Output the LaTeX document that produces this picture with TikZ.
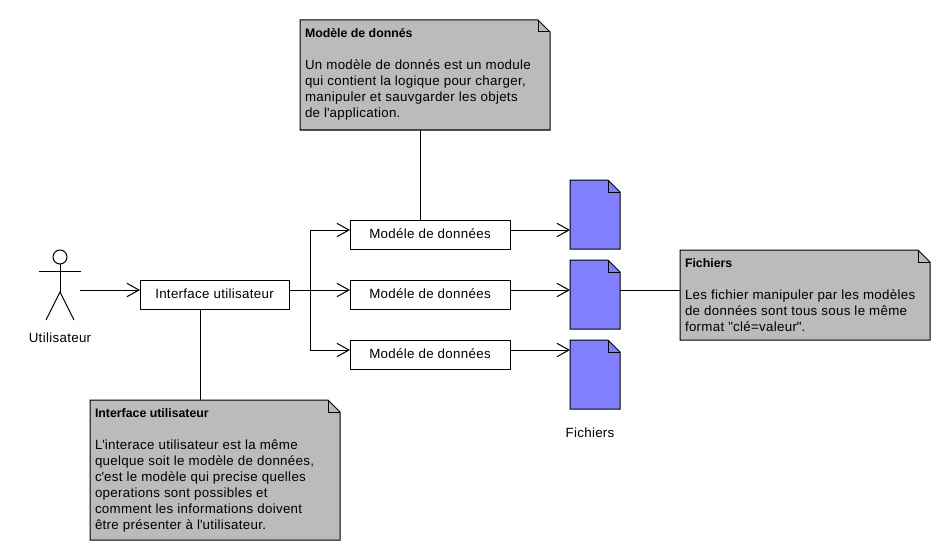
\documentclass[tikz,border=0pt]{standalone}
\usepackage{fontspec}
\setmainfont[LetterSpace=2.3]{Liberation Sans}
\newfontfamily\titlefont[Scale=1]{Liberation Sans}
\usetikzlibrary{calc,arrows.meta}
\definecolor{notegray}{HTML}{BBBBBB}
\definecolor{fileblue}{HTML}{8080FF}
\newcommand{\px}{0.75pt}
\newcommand{\notetitle}[1]{{\fontsize{9.25}{12}\titlefont\bfseries #1}}
% outline with the folded corner, round an empty node
\newcommand{\foldbox}[2]{%
\draw [fill = #2] (#1.north west) -- ($(#1.north east)+(-12,0)$) -- ($(#1.north east)+(0,12)$) -- (#1.south east) -- (#1.south west) -- cycle;
\draw ($(#1.north east)+(-12,0)$) -- ($(#1.north east)+(-12,12)$) -- ($(#1.north east)+(0,12)$);}
\tikzset{
  every node/.style = {font = \fontsize{10}{12}\selectfont, inner sep = 0, outer sep = 0},
  module/.style = {draw, fill = white, minimum height = 29*\px, text height = 8pt, text depth = 2.5pt},
  notebody/.style = {minimum width = 250*\px, anchor = north west},
  notetext/.style = {anchor = north west, align = left},
  filebody/.style = {minimum width = 50*\px, minimum height = 69*\px, anchor = north west},
  conn/.style = {-{Straight Barb[length = 9pt, width = 10pt]}}
}
\begin{document}
\begin{tikzpicture}[x = \px, y = -\px, line width = \px]
\useasboundingbox (0,0) rectangle (950,560);
% actor
\node [circle, draw, minimum size = 14*\px] (head) at (60,257) {};
\coordinate (hip) at (60,292);
\coordinate (actorout) at (80,290);
\draw (head.south) -- (hip);
\draw (39,271) -- (81,271);
\draw (46,320) -- (hip) -- (74,320);
\node (actorlabel) at (60,338) {Utilisateur};
% modules
\node [module, minimum width = 149*\px] (interface) at (214.5,294.5) {Interface utilisateur};
\node [module, minimum width = 160*\px] (dataA) at (430,234.5) {Modéle de données};
\node [module, minimum width = 160*\px] (dataB) at (430,294.5) {Modéle de données};
\node [module, minimum width = 160*\px] (dataC) at (430,354.5) {Modéle de données};
% files
\node [filebody] (fileA) at (570,180) {}; \foldbox{fileA}{fileblue}
\node [filebody] (fileB) at (570,260) {}; \foldbox{fileB}{fileblue}
\node [filebody] (fileC) at (570,340) {}; \foldbox{fileC}{fileblue}
\node (filelabel) at (590,433) {Fichiers};
% notes
\node [notebody, minimum height = 110*\px] (noteData) at (300,20) {}; \foldbox{noteData}{notegray}
\node [notetext] (noteDataText) at (305,28.5) {\notetitle{Modèle de donnés}\\[12pt]Un modèle de donnés est un module\\qui contient la logique pour charger,\\manipuler et sauvgarder les objets\\de l\textquotesingle application.};
\node [notebody, minimum height = 90*\px] (noteFile) at (680,250) {}; \foldbox{noteFile}{notegray}
\node [notetext] (noteFileText) at (685,258.5) {\notetitle{Fichiers}\\[12pt]Les fichier manipuler par les modèles\\de données sont tous sous le même\\format \textquotedbl clé=valeur\textquotedbl.};
\node [notebody, minimum height = 140*\px] (noteUi) at (90,400) {}; \foldbox{noteUi}{notegray}
\node [notetext] (noteUiText) at (95,408.5) {\notetitle{Interface utilisateur}\\[12pt]L\textquotesingle interace utilisateur est la même\\quelque soit le modèle de données,\\c\textquotesingle est le modèle qui precise quelles\\operations sont possibles et\\comment les informations doivent\\être présenter à l\textquotesingle utilisateur.};
% arrows
\coordinate (split) at (310,290);
\draw [conn] (actorout) -- (actorout -| interface.west);
\draw (split -| interface.east) -- (split);
\draw [conn] (split) |- ([yshift = 4.5*\px]dataA.west);
\draw [conn] (split) -- (split -| dataB.west);
\draw [conn] (split) |- ([yshift = 4.5*\px]dataC.west);
\draw [conn] ([yshift = 4.5*\px]dataA.east) -- ++(60,0) coordinate (endA);
\draw [conn] ([yshift = 4.5*\px]dataB.east) -- ++(60,0) coordinate (endB);
\draw [conn] ([yshift = 4.5*\px]dataC.east) -- ++(60,0) coordinate (endC);
% note links
\coordinate (dataTop) at (420,220);
\coordinate (uiBottom) at (200,309);
\draw (noteData.south -| dataTop) -- (dataTop);
\draw (uiBottom) -- (uiBottom |- noteUi.north);
\draw (endB -| fileB.east) -- (endB -| noteFile.west);
\end{tikzpicture}
\end{document}
